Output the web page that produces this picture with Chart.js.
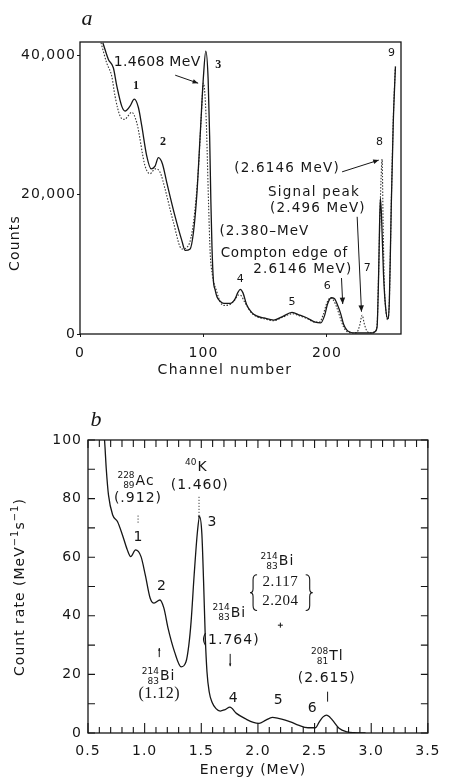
<!DOCTYPE html>
<html>
<head>
<meta charset="utf-8">
<script src="https://cdn.jsdelivr.net/npm/chart.js@4.4.1/dist/chart.umd.min.js"></script>
<style>
  html, body { margin: 0; padding: 0; background: #fff; }
  .panel { position: absolute; left: 0; width: 449px; height: 390px; }
  #panel-a { top: 0; }
  #panel-b { top: 390px; }
</style>
</head>
<body>
<div class="panel" id="panel-a"><canvas id="chart-a" width="449" height="390"></canvas></div>
<div class="panel" id="panel-b"><canvas id="chart-b" width="449" height="390"></canvas></div>
<script>
// Panel a: gamma spectrum, counts per channel (solid and dotted runs)
const solidChannels = [18.5, 23, 27, 29.8, 33.8, 36.5, 40.5, 44, 47.3, 50, 54, 57.6, 60.8, 63.5, 66.8, 70.2, 77.1, 82.5, 85.2, 89.2,
  91.9, 94.6, 97.3, 100, 101.9, 103.8, 105, 106, 106.9, 108, 109.5, 111, 113.5, 116.5, 121.7, 125.5, 128, 129.8, 132, 135,
  139, 143, 149, 157, 164, 171.7, 178, 184, 190.5, 195, 198, 200.5, 203.5, 206, 208.5, 211, 213.5, 216, 219, 222,
  237, 239, 240.6, 241.9, 242.6, 243.3, 244.2, 245.8, 247.5, 249.2, 250.6, 252.1, 253.7, 255.5];
const solidCounts = [41800, 39400, 38200, 35600, 32700, 32000, 32700, 33700, 32500, 29900, 25600, 23700, 24100, 25300, 24400, 21800, 16800, 13400, 12000, 12200,
  14600, 19900, 28400, 37000, 40600, 36500, 28400, 19000, 12500, 7800, 6300, 5300, 4700, 4400, 4400, 5000, 6000, 6400, 5900, 4200,
  3100, 2600, 2300, 2000, 2500, 3100, 2700, 2300, 1700, 1600, 2600, 4300, 5200, 5100, 4200, 3000, 1400, 600, 250, 150,
  150, 350, 1000, 8700, 15300, 19500, 17000, 8700, 3900, 2200, 4900, 18200, 30100, 38400];

const dottedChannels = [17, 21.6, 25.7, 28.4, 32.4, 36, 41.9, 46, 52.7, 56.8, 60.8, 64.9, 68.9, 75.7, 82.5, 87.8, 91.9, 95.9, 98.1, 100,
  102.2, 104.1, 105.4, 107.3, 110.9, 113.5, 116.5, 121, 125, 128.5, 130.5, 133, 136, 139, 143, 149, 157, 164, 171.7, 178,
  184, 190.5, 194, 197, 200, 203, 205.5, 208, 211, 213.5, 216, 220, 224, 226.5, 228.5, 230.5, 233, 237, 239, 240.6,
  241.9, 242.8, 243.8, 244.7, 245.5, 246.5, 248, 249.2, 250.6, 252.1, 253.7, 255.3];
const dottedCounts = [41800, 38900, 37000, 34100, 31300, 30800, 31800, 30300, 24100, 23000, 23700, 23200, 20800, 16000, 12200, 12700, 16000, 23700, 30800, 36000,
  30800, 18900, 11800, 8400, 6000, 4600, 4100, 4200, 4800, 5600, 5500, 4700, 3800, 3000, 2500, 2200, 1900, 2400, 2900, 2600,
  2200, 1700, 1700, 2800, 4500, 5200, 4800, 3800, 2200, 1000, 400, 150, 200, 1200, 2700, 1300, 300, 150, 400, 1200,
  9000, 16000, 22000, 25100, 16000, 7000, 3000, 2000, 5000, 18500, 30500, 38000];

const channelTicks = [0, 100, 200];
const countTicks = [0, 20000, 40000];

// Panel b: count rate vs energy
const energies = [0.625, 0.647, 0.661, 0.681, 0.718, 0.761, 0.804, 0.847, 0.877, 0.92, 0.968, 1.006, 1.049, 1.083, 1.135, 1.17, 1.207, 1.264, 1.322, 1.365,
  1.39, 1.41, 1.437, 1.466, 1.485, 1.505, 1.52, 1.535, 1.55, 1.57, 1.595, 1.63, 1.667, 1.71, 1.753, 1.81, 1.897, 1.96, 2.01, 2.07,
  2.127, 2.18, 2.241, 2.3, 2.356, 2.442, 2.506, 2.543, 2.575, 2.606, 2.635, 2.658, 2.716, 2.787, 2.85, 2.95];
const countRates = [108, 99.4, 90.3, 81.2, 74.4, 72.1, 67.6, 62.5, 60.2, 62.5, 60.2, 53.9, 46, 44.3, 45.4, 42.6, 35.7, 27.7, 22.6, 24.3,
  30, 38, 53.9, 68.7, 73.8, 68, 52, 33, 21, 14, 10.5, 8.3, 7.5, 8.0, 8.8, 6.7, 4.7, 3.6, 3.3, 4.4,
  5.3, 5.0, 4.4, 3.6, 2.7, 1.8, 1.8, 3.9, 5.5, 6.1, 5.4, 4.4, 1.6, 0.4, 0.1, 0];

const energyTicks = [0.5, 1.0, 1.5, 2.0, 2.5, 3.0, 3.5];
const rateTicks = [0, 20, 40, 60, 80, 100];

const INK = '#161616';
const SANS = "'DejaVu Sans', sans-serif";
const SERIF = "'Liberation Serif', serif";

const toPoints = (xs, ys) => xs.map((x, i) => ({ x, y: ys[i] }));

// frame round the plot area plus inward tick marks
const frameTicks = {
  id: 'frameTicks',
  beforeDraw(chart) {
    chart.ctx.letterSpacing = '1px';
  },
  afterDatasetsDraw(chart, args, opts) {
    const { ctx, chartArea: a, scales } = chart;
    ctx.save();
    ctx.strokeStyle = INK;
    ctx.lineWidth = 1.3;
    ctx.strokeRect(a.left, a.top, a.right - a.left, a.bottom - a.top);
    ctx.lineWidth = 1.1;
    (opts.marks || []).forEach(m => {
      const scale = scales[m.axis];
      ctx.beginPath();
      m.values.forEach(v => {
        const p = scale.getPixelForValue(v);
        const len = m.len(v);
        if (m.side === 'bottom') { ctx.moveTo(p, a.bottom); ctx.lineTo(p, a.bottom - len); }
        if (m.side === 'top') { ctx.moveTo(p, a.top); ctx.lineTo(p, a.top + len); }
        if (m.side === 'left') { ctx.moveTo(a.left, p); ctx.lineTo(a.left + len, p); }
        if (m.side === 'right') { ctx.moveTo(a.right, p); ctx.lineTo(a.right - len, p); }
      });
      ctx.stroke();
    });
    ctx.restore();
  }
};

function arrowHead(ctx, x1, y1, x2, y2, size) {
  const ang = Math.atan2(y2 - y1, x2 - x1);
  ctx.beginPath();
  ctx.moveTo(x2, y2);
  ctx.lineTo(x2 - size * Math.cos(ang - 0.4), y2 - size * Math.sin(ang - 0.4));
  ctx.lineTo(x2 - size * Math.cos(ang + 0.4), y2 - size * Math.sin(ang + 0.4));
  ctx.closePath();
  ctx.fill();
}

function drawRich(ctx, parts, x, y, rot) {
  ctx.save();
  ctx.translate(x, y);
  ctx.rotate(rot || 0);
  ctx.textAlign = 'left';
  let total = 0;
  parts.forEach(p => { ctx.font = p.font; total += ctx.measureText(p.s).width; });
  let cx = -total / 2;
  parts.forEach(p => {
    ctx.font = p.font;
    ctx.fillText(p.s, cx, p.dy || 0);
    cx += ctx.measureText(p.s).width;
  });
  ctx.restore();
}

// text, arrows and marks placed in data coordinates
const notes = {
  id: 'notes',
  afterDraw(chart, args, opts) {
    const { ctx, scales: { x, y } } = chart;
    const px = v => x.getPixelForValue(v);
    const py = v => y.getPixelForValue(v);
    ctx.save();
    ctx.fillStyle = INK;
    ctx.strokeStyle = INK;
    ctx.textBaseline = 'middle';
    ctx.lineWidth = 1;
    (opts.items || []).forEach(it => {
      ctx.letterSpacing = (it.ls !== undefined ? it.ls : 1) + 'px';
      if (it.t === 'text') {
        ctx.font = it.font || `14px ${SANS}`;
        ctx.textAlign = it.align || 'center';
        ctx.fillText(it.s, px(it.x), py(it.y));
      } else if (it.t === 'pix') {
        ctx.save();
        ctx.translate(it.x, it.y);
        ctx.rotate(it.rot || 0);
        ctx.font = it.font;
        ctx.textAlign = 'center';
        ctx.fillText(it.s, 0, 0);
        ctx.restore();
      } else if (it.t === 'rich') {
        drawRich(ctx, it.parts, it.x, it.y, it.rot);
      } else if (it.t === 'arrow') {
        const x1 = px(it.x1), y1 = py(it.y1), x2 = px(it.x2), y2 = py(it.y2);
        ctx.setLineDash(it.dash || []);
        ctx.beginPath();
        ctx.moveTo(x1, y1);
        ctx.lineTo(x2, y2);
        ctx.stroke();
        ctx.setLineDash([]);
        if (it.head) arrowHead(ctx, x1, y1, x2, y2, it.head);
      } else if (it.t === 'iso') {
        const sx = px(it.x), sy = py(it.y);
        ctx.font = `14px ${SANS}`;
        ctx.textAlign = 'left';
        ctx.fillText(it.s, sx, sy);
        ctx.letterSpacing = '0px';
        ctx.font = `9px ${SANS}`;
        ctx.textAlign = 'right';
        ctx.fillText(it.a, sx - 1, sy - 5);
        ctx.fillText(it.z, sx - 1, sy + 5);
      } else if (it.t === 'plus') {
        const cx = px(it.x), cy = py(it.y);
        ctx.beginPath();
        ctx.moveTo(cx - 2.5, cy); ctx.lineTo(cx + 2.5, cy);
        ctx.moveTo(cx, cy - 2.5); ctx.lineTo(cx, cy + 2.5);
        ctx.stroke();
      } else if (it.t === 'brace') {
        const bx = px(it.x), top = py(it.y1), bot = py(it.y2), mid = (top + bot) / 2;
        const d = it.dir;
        ctx.lineWidth = 1.1;
        ctx.beginPath();
        ctx.moveTo(bx + 4 * d, top);
        ctx.quadraticCurveTo(bx, top, bx, top + 5);
        ctx.lineTo(bx, mid - 4);
        ctx.quadraticCurveTo(bx, mid, bx - 3 * d, mid);
        ctx.quadraticCurveTo(bx, mid, bx, mid + 4);
        ctx.lineTo(bx, bot - 5);
        ctx.quadraticCurveTo(bx, bot, bx + 4 * d, bot);
        ctx.stroke();
        ctx.lineWidth = 1;
      }
    });
    ctx.restore();
  }
};

const notesA = [
  { t: 'pix', s: 'a', x: 87, y: 19, font: `italic 22px ${SERIF}`, ls: 0 },
  { t: 'pix', s: 'Counts', x: 15, y: 243, rot: -Math.PI / 2, font: `14px ${SANS}`, ls: 1.2 },
  { t: 'pix', s: 'Channel number', x: 225, y: 370, font: `14px ${SANS}`, ls: 1.3 },
  { t: 'text', s: '1.4608 MeV', x: 62.5, y: 39000, font: `14px ${SANS}`, ls: 0.3 },
  { t: 'arrow', x1: 77.1, y1: 37140, x2: 95.7, y2: 35990, head: 6 },
  { t: 'text', s: '3', x: 112, y: 38600, font: `bold 12px ${SERIF}`, ls: 0 },
  { t: 'text', s: '1', x: 45.4, y: 35560, font: `bold 12px ${SERIF}`, ls: 0 },
  { t: 'text', s: '2', x: 67.3, y: 27530, font: `bold 12px ${SERIF}`, ls: 0 },
  { t: 'text', s: '4', x: 129.8, y: 7890, font: `11px ${SANS}`, ls: 0 },
  { t: 'text', s: '5', x: 171.8, y: 4630, font: `11px ${SANS}`, ls: 0 },
  { t: 'text', s: '6', x: 200.2, y: 6880, font: `11px ${SANS}`, ls: 0 },
  { t: 'text', s: '7', x: 232.6, y: 9460, font: `11px ${SANS}`, ls: 0 },
  { t: 'text', s: '8', x: 242.6, y: 27580, font: `11px ${SANS}`, ls: 0 },
  { t: 'text', s: '9', x: 252.3, y: 40300, font: `11px ${SANS}`, ls: 0 },
  { t: 'text', s: '(2.6146 MeV)', x: 167.7, y: 23800, font: `13.5px ${SANS}`, ls: 1.2 },
  { t: 'arrow', x1: 212.3, y1: 23270, x2: 242, y2: 24950, head: 6 },
  { t: 'text', s: 'Signal peak', x: 189.5, y: 20260, font: `13.5px ${SANS}`, ls: 1.2 },
  { t: 'text', s: '(2.496 MeV)', x: 192.7, y: 18070, font: `13.5px ${SANS}`, ls: 1.2 },
  { t: 'arrow', x1: 224.5, y1: 16820, x2: 228, y2: 3200, head: 7 },
  { t: 'text', s: '(2.380\u2013MeV', x: 149.3, y: 14670, font: `13.5px ${SANS}`, ls: 1 },
  { t: 'text', s: 'Compton edge of', x: 165.5, y: 11615, font: `13.5px ${SANS}`, ls: 0.7 },
  { t: 'text', s: '2.6146 MeV)', x: 180.5, y: 9320, font: `13.5px ${SANS}`, ls: 1.2 },
  { t: 'arrow', x1: 211.8, y1: 8030, x2: 212.8, y2: 4300, head: 7 }
];

const notesB = [
  { t: 'pix', s: 'b', x: 96, y: 30, font: `italic 22px ${SERIF}`, ls: 0 },
  { t: 'pix', s: 'Energy (MeV)', x: 253, y: 380, font: `14px ${SANS}`, ls: 1 },
  { t: 'rich', x: 20, y: 197, rot: -Math.PI / 2, parts: [
    { s: 'Count rate (MeV', font: `14px ${SANS}` },
    { s: '\u22121', font: `10px ${SANS}`, dy: -5 },
    { s: 's', font: `14px ${SANS}` },
    { s: '\u22121', font: `10px ${SANS}`, dy: -5 },
    { s: ')', font: `14px ${SANS}` }
  ] },
  { t: 'iso', s: 'Ac', a: '228', z: '89', x: 0.92, y: 86 },
  { t: 'text', s: '(.912)', x: 0.941, y: 80 },
  { t: 'arrow', x1: 0.942, y1: 74.2, x2: 0.942, y2: 71.2, dash: [1, 2] },
  { t: 'text', s: '1', x: 0.942, y: 66.9, ls: 0 },
  { t: 'iso', s: 'K', a: '40', z: '', x: 1.466, y: 90.6 },
  { t: 'text', s: '(1.460)', x: 1.487, y: 84.6 },
  { t: 'arrow', x1: 1.48, y1: 80.6, x2: 1.48, y2: 73.2, dash: [1, 2], head: 3 },
  { t: 'text', s: '3', x: 1.595, y: 72, ls: 0 },
  { t: 'text', s: '2', x: 1.149, y: 49.9, ls: 0 },
  { t: 'arrow', x1: 1.129, y1: 25.9, x2: 1.129, y2: 29, head: 3 },
  { t: 'iso', s: 'Bi', a: '214', z: '83', x: 1.135, y: 19.4 },
  { t: 'text', s: '(1.12)', x: 1.129, y: 13.5, font: `16px ${SERIF}`, ls: 0.5 },
  { t: 'iso', s: 'Bi', a: '214', z: '83', x: 1.759, y: 41 },
  { t: 'text', s: '(1.764)', x: 1.759, y: 31.7 },
  { t: 'arrow', x1: 1.755, y1: 27, x2: 1.755, y2: 22.8, head: 3 },
  { t: 'text', s: '4', x: 1.782, y: 11.8, ls: 0 },
  { t: 'iso', s: 'Bi', a: '214', z: '83', x: 2.184, y: 58.6 },
  { t: 'brace', x: 1.957, y1: 54, y2: 41.8, dir: 1 },
  { t: 'brace', x: 2.457, y1: 54, y2: 41.8, dir: -1 },
  { t: 'text', s: '2.117', x: 2.198, y: 51.4, font: `15px ${SERIF}`, ls: 0.5 },
  { t: 'text', s: '2.204', x: 2.198, y: 45.1, font: `15px ${SERIF}`, ls: 0.5 },
  { t: 'plus', x: 2.198, y: 36.8 },
  { t: 'text', s: '5', x: 2.178, y: 11, ls: 0 },
  { t: 'text', s: '6', x: 2.48, y: 8.4, ls: 0 },
  { t: 'iso', s: 'Tl', a: '208', z: '81', x: 2.629, y: 26 },
  { t: 'text', s: '(2.615)', x: 2.608, y: 18.6 },
  { t: 'arrow', x1: 2.615, y1: 14.1, x2: 2.615, y2: 10.7 }
];

const steps = (from, to, step) => {
  const out = [];
  for (let v = from; v <= to + 1e-9; v += step) out.push(Math.round(v * 1000) / 1000);
  return out;
};
const isMajor = (v, step) => Math.abs(v / step - Math.round(v / step)) < 1e-6;

const tickFont = { family: SANS, size: 14 };

new Chart(document.getElementById('chart-a'), {
  type: 'line',
  data: {
    datasets: [
      {
        data: toPoints(solidChannels, solidCounts),
        borderColor: INK,
        borderWidth: 1.3,
        pointRadius: 0,
        cubicInterpolationMode: 'monotone',
        fill: false
      },
      {
        data: toPoints(dottedChannels, dottedCounts),
        borderColor: '#333',
        borderWidth: 1.1,
        borderDash: [1.5, 1.6],
        pointRadius: 0,
        cubicInterpolationMode: 'monotone',
        fill: false
      }
    ]
  },
  options: {
    responsive: false,
    animation: false,
    layout: { padding: { left: 0, right: 48, top: 42, bottom: 0 } },
    plugins: {
      legend: { display: false },
      tooltip: { enabled: false },
      frameTicks: { marks: [] },
      notes: { items: notesA }
    },
    scales: {
      x: {
        type: 'linear',
        min: 0,
        max: 260,
        afterBuildTicks: s => { s.ticks = channelTicks.map(v => ({ value: v })); },
        afterFit: s => { s.height = 56; },
        grid: { drawOnChartArea: false, drawTicks: true, tickLength: 3, color: INK },
        border: { display: false },
        ticks: { padding: 8, color: INK, font: tickFont, maxRotation: 0 }
      },
      y: {
        type: 'linear',
        min: 0,
        max: 41900,
        afterBuildTicks: s => { s.ticks = countTicks.map(v => ({ value: v })); },
        afterFit: s => { s.width = 80; },
        grid: { drawOnChartArea: false, drawTicks: true, tickLength: 3, color: INK },
        border: { display: false },
        ticks: { padding: 1, color: INK, font: tickFont, callback: v => v.toLocaleString('en-US') }
      }
    }
  },
  plugins: [frameTicks, notes]
});

new Chart(document.getElementById('chart-b'), {
  type: 'line',
  data: {
    datasets: [{
      data: toPoints(energies, countRates),
      borderColor: INK,
      borderWidth: 1.3,
      pointRadius: 0,
      cubicInterpolationMode: 'monotone',
      fill: false
    }]
  },
  options: {
    responsive: false,
    animation: false,
    layout: { padding: { left: 0, right: 12, top: 50, bottom: 0 } },
    plugins: {
      legend: { display: false },
      tooltip: { enabled: false },
      frameTicks: {
        marks: [
          { axis: 'x', side: 'bottom', values: steps(0.5, 3.5, 0.1), len: v => isMajor(v, 0.5) ? 10 : 6 },
          { axis: 'x', side: 'top', values: steps(0.5, 3.5, 0.1), len: v => isMajor(v, 0.5) ? 8 : 7 },
          { axis: 'y', side: 'left', values: steps(0, 100, 10), len: () => 7 },
          { axis: 'y', side: 'right', values: steps(0, 100, 10), len: () => 7 }
        ]
      },
      notes: { items: notesB }
    },
    scales: {
      x: {
        type: 'linear',
        min: 0.5,
        max: 3.5,
        afterBuildTicks: s => { s.ticks = energyTicks.map(v => ({ value: v })); },
        afterFit: s => { s.height = 47; },
        grid: { display: false, drawTicks: false },
        border: { display: false },
        ticks: { padding: 10, color: INK, font: tickFont, maxRotation: 0, callback: v => v.toFixed(1) }
      },
      y: {
        type: 'linear',
        min: 0,
        max: 100,
        afterBuildTicks: s => { s.ticks = rateTicks.map(v => ({ value: v })); },
        afterFit: s => { s.width = 88; },
        grid: { display: false, drawTicks: false },
        border: { display: false },
        ticks: { padding: 6, color: INK, font: tickFont }
      }
    }
  },
  plugins: [frameTicks, notes]
});
</script>
</body>
</html>
